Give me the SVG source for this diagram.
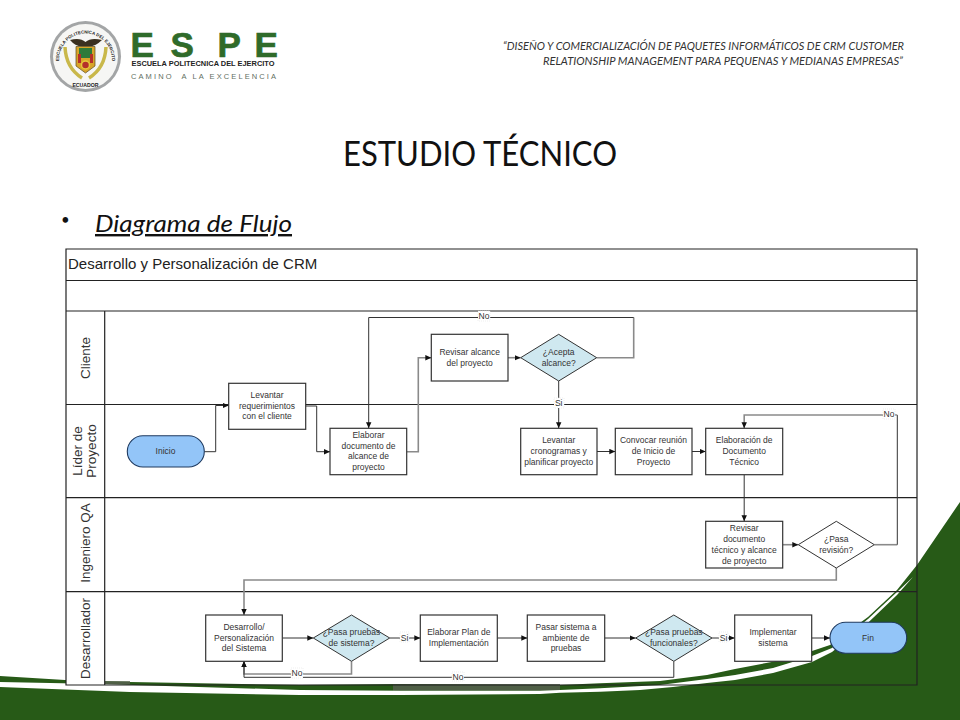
<svg xmlns="http://www.w3.org/2000/svg" xmlns:xlink="http://www.w3.org/1999/xlink" width="960" height="720" viewBox="0 0 960 720">
<style>
.n{fill:#fff;stroke:#333;stroke-width:1.2}
.d{fill:#cfe8f0;stroke:#333;stroke-width:1}
.dw{fill:#fff;stroke:#333;stroke-width:1}
.p{fill:#93c5f8;stroke:#1f3a5f;stroke-width:1.1}
.t{font-family:"Liberation Sans",Arial,sans-serif;font-size:8.5px;fill:#333;text-anchor:middle}
.v{font-family:"Liberation Sans",Arial,sans-serif;font-size:13.5px;fill:#333;text-anchor:middle}
.l{fill:none;stroke:#222;stroke-width:1.2}
.c{fill:none;stroke:#333;stroke-width:1}
.g{fill:none;stroke:#8a8a8a;stroke-width:1.6}
.a{marker-end:url(#ah)}
.lb{fill:#fff;stroke:#ddd;stroke-width:.5;stroke-dasharray:1 1}
.lane{fill:#fff;stroke:none}
</style>
<defs>
<marker id="ah" markerUnits="userSpaceOnUse" markerWidth="7" markerHeight="6" refX="6" refY="3" orient="auto"><path d="M0 .3L6 3L0 5.700Z" fill="#111"/></marker>
<path id="sealTop" d="M59 60A26.500 26.500 0 1 1 112 60"/>
</defs>
<rect width="960" height="720" fill="#fff"/>
<g id="background">
<path d="M0 676L65 680L130 682L300 685L400 684L560 685L600 683.300L660 681L707 675L735 669L773 661.700L812 651L830 645L868 617L897 590L917 565L960 502V720H0Z" fill="#275a17"/>
<path d="M393 684.300H560V690.500H393ZM105 681.300H130V684.500H105Z" fill="#4f5f46"/>
<path d="M0 682L100 684L300 690L400 690.700L540 690.700L560 690L600 688.300L660 685L707 679L735 675L773 668L812 656L832 648L868 619L897 592L913 577L897 595L868 622.700L832 652L812 662L773 673L735 680L707 683L673 687L640 690L600 691.700L560 692.700L540 694L400 695L300 695L130 692L0 687Z" fill="#fff"/>
</g>
<g id="logo">
<circle cx="85.500" cy="56.500" r="35.500" fill="#a3a5a6"/>
<circle cx="85.500" cy="56.500" r="32.500" fill="#f6f6f4"/>
<text font-family="'Liberation Sans',Arial,sans-serif" font-size="4.400" font-weight="700" fill="#222"><textPath xlink:href="#sealTop" href="#sealTop" startOffset="50%" text-anchor="middle">ESCUELA POLITECNICA DEL EJERCITO</textPath></text>
<text x="85.500" y="87" font-family="'Liberation Sans',Arial,sans-serif" font-size="5.200" font-weight="700" fill="#222" text-anchor="middle">ECUADOR</text>
<path d="M65 47Q66 68 82 78M106 47Q105 68 89 78" fill="none" stroke="#c9b84a" stroke-width="3.500"/>
<path d="M70 40Q80 37 85.500 42Q91 37 102 40Q96 46 89 46.500H82Q75 46 70 40Z" fill="#3a3020"/>
<path d="M76 46.500H95V66L85.500 73L76 66Z" fill="#d8a428" stroke="#5a4a20" stroke-width=".7"/>
<rect x="79" y="48" width="13" height="10" fill="#2f7a3a"/>
<rect x="78" y="54" width="3" height="9" fill="#b5302a"/><rect x="90" y="54" width="3" height="9" fill="#b5302a"/>
<circle cx="85.500" cy="65" r="4" fill="#b5302a" stroke="#e6c83c" stroke-width="1.500"/>
<text x="130.500 170.500 217.500 254.500" y="57" font-family="'Liberation Sans',Arial,sans-serif" font-size="35" font-weight="700" fill="#2f6b2a" stroke="#2f6b2a" stroke-width=".7">ESPE</text>
<text x="131.500" y="66" font-family="'Liberation Sans',Arial,sans-serif" font-size="8" font-weight="700" fill="#222" textLength="143" lengthAdjust="spacingAndGlyphs">ESCUELA POLITECNICA DEL EJERCITO</text>
<text x="131" y="78.500" font-family="'Liberation Sans',Arial,sans-serif" font-size="7.500" fill="#5f6f5f" textLength="145" xml:space="preserve">CAMINO  A LA EXCELENCIA</text>
</g>
<g id="header">
<text x="904" y="50" font-family="Lato,'Open Sans',sans-serif" font-size="11" font-style="italic" fill="#333" text-anchor="end" textLength="401" lengthAdjust="spacingAndGlyphs">“DISEÑO Y COMERCIALIZACIÓN DE PAQUETES INFORMÁTICOS DE CRM CUSTOMER</text>
<text x="903" y="65" font-family="Lato,'Open Sans',sans-serif" font-size="11" font-style="italic" fill="#333" text-anchor="end" textLength="360" lengthAdjust="spacingAndGlyphs">RELATIONSHIP MANAGEMENT PARA PEQUENAS Y MEDIANAS EMPRESAS”</text>
<text x="480" y="166" font-family="Lato,'Open Sans',sans-serif" font-size="35" fill="#111" text-anchor="middle" textLength="274" lengthAdjust="spacingAndGlyphs">ESTUDIO TÉCNICO</text>
<text x="61" y="225" font-family="Lato,'Open Sans',sans-serif" font-size="15" fill="#111">•</text>
<text x="95" y="232" font-family="Lato,'Open Sans',sans-serif" font-size="24" font-style="italic" fill="#111" text-decoration="underline" textLength="197" lengthAdjust="spacingAndGlyphs">Diagrama de Flujo</text>
</g>
<g id="swimlanes">
<rect class="lane" x="66" y="249" width="851" height="62"/>
<rect class="lane" x="66" y="311" width="39" height="374"/>
<path class="l" d="M66 249H917V685H66ZM66 280.500H917M66 311H917M66 404.500H917M66 497.700H917M66 591.700H917M104.700 311V685"/>
<text x="68" y="269" font-family="'Liberation Sans',Arial,sans-serif" font-size="15" fill="#222">Desarrollo y Personalización de CRM</text>
<text class="v" transform="translate(89.500 358) rotate(-90)">Cliente</text>
<text class="v" transform="translate(81.500 451) rotate(-90)">Líder de</text>
<text class="v" transform="translate(95.500 451) rotate(-90)">Proyecto</text>
<text class="v" transform="translate(89.500 543) rotate(-90)">Ingeniero QA</text>
<text class="v" transform="translate(89.500 638.500) rotate(-90)">Desarrollador</text>
</g>
<g id="connectors">
<path class="c a" d="M204.300 451.700H215.700V405.500H228.700"/>
<path class="c a" d="M305.700 406H316.700V451.700H330"/>
<path class="g a" d="M406.700 451.700H418.300V357.700H431.300"/>
<path class="g a" d="M508 357.700H520.700"/>
<path class="g" d="M596.700 357.700H633.700V317.500"/>
<path class="c a" d="M633.700 317.500H368.700V428.300"/>
<path class="c a" d="M558.700 381V428.300"/>
<path class="c a" d="M597 451.500H615.300"/>
<path class="c a" d="M692 451.500H705.700"/>
<path class="c a" d="M744.200 474.700V521.300"/>
<path class="g a" d="M782.700 544.700H798.300"/>
<path class="g" d="M874.300 544.700H897.300"/>
<path class="c" d="M897.300 544.700V415"/>
<path class="g a" d="M897.300 415H744.200V428.300"/>
<path class="g a" d="M836.300 568V580H244V615"/>
<path class="c a" d="M282.300 638H313.300"/>
<path class="g a" d="M351.500 661.300V674H244V661.300"/>
<path class="c a" d="M673.800 661.300V677.300H244V661.300"/>
<path class="c a" d="M389.700 638H420.300"/>
<path class="c a" d="M497.300 638H527.300"/>
<path class="c a" d="M604.700 638H635.700"/>
<path class="c a" d="M712 638H734.700"/>
<path class="c a" d="M811.700 638H830"/>
<g id="connector-labels">
<rect class="lb" x="478" y="311" width="12" height="10"/><text class="t" x="484" y="319">No</text>
<rect class="lb" x="554" y="398" width="10" height="10"/><text class="t" x="558.700" y="406">Si</text>
<rect class="lb" x="883" y="409" width="12" height="10"/><text class="t" x="889" y="417">No</text>
<rect class="lb" x="291" y="668" width="12" height="10"/><text class="t" x="297" y="676">No</text>
<rect class="lb" x="400" y="632" width="9" height="10"/><text class="t" x="404.500" y="640.500">Si</text>
<rect class="lb" x="452" y="672" width="12" height="9"/><text class="t" x="458" y="680">No</text>
<rect class="lb" x="719" y="632" width="9" height="10"/><text class="t" x="723.500" y="640.500">Si</text>
</g>
</g>
<g id="inicio"><rect class="p" x="127.300" y="435.700" width="77" height="31.300" rx="15.600"/><text class="t" x="165.500" y="454">Inicio</text></g>
<g id="levantar-req"><rect class="n" x="228.700" y="383.300" width="77" height="46"/><text class="t" x="267" y="398">Levantar</text><text class="t" x="267" y="408.500">requerimientos</text><text class="t" x="267" y="419">con el cliente</text></g>
<g id="elaborar-doc"><rect class="n" x="330" y="428.300" width="76.700" height="46.400"/><text class="t" x="368.500" y="438">Elaborar</text><text class="t" x="368.500" y="448.500">documento de</text><text class="t" x="368.500" y="459">alcance de</text><text class="t" x="368.500" y="469.500">proyecto</text></g>
<g id="revisar-alcance"><rect class="n" x="431.300" y="334.300" width="76.700" height="46.700"/><text class="t" x="469.700" y="355">Revisar alcance</text><text class="t" x="469.700" y="366">del proyecto</text></g>
<g id="acepta"><path class="d" d="M520.700 357.700L558.700 334.300L596.700 357.700L558.700 381Z"/><text class="t" x="558.700" y="355">¿Acepta</text><text class="t" x="558.700" y="366">alcance?</text></g>
<g id="levantar-crono"><rect class="n" x="520.700" y="428.300" width="76.300" height="46.400"/><text class="t" x="558.700" y="443">Levantar</text><text class="t" x="558.700" y="454">cronogramas y</text><text class="t" x="558.700" y="464.500">planificar proyecto</text></g>
<g id="convocar"><rect class="n" x="615.300" y="428.300" width="76.700" height="46.400"/><text class="t" x="653.500" y="443">Convocar reunión</text><text class="t" x="653.500" y="454">de Inicio de</text><text class="t" x="653.500" y="464.500">Proyecto</text></g>
<g id="elaboracion"><rect class="n" x="705.700" y="428.300" width="77" height="46.400"/><text class="t" x="744.200" y="443">Elaboración de</text><text class="t" x="744.200" y="454">Documento</text><text class="t" x="744.200" y="464.500">Técnico</text></g>
<g id="revisar-doc"><rect class="n" x="705.700" y="521.300" width="77" height="46.700"/><text class="t" x="744.200" y="531">Revisar</text><text class="t" x="744.200" y="542">documento</text><text class="t" x="744.200" y="553">técnico y alcance</text><text class="t" x="744.200" y="563.500">de proyecto</text></g>
<g id="pasa-revision"><path class="dw" d="M798.300 544.700L836.300 521.300L874.300 544.700L836.300 568Z"/><text class="t" x="836.300" y="542">¿Pasa</text><text class="t" x="836.300" y="553">revisión?</text></g>
<g id="desarrollo"><rect class="n" x="205.700" y="615" width="76.600" height="46.300"/><text class="t" x="244" y="630">Desarrollo/</text><text class="t" x="244" y="640.500">Personalización</text><text class="t" x="244" y="651">del Sistema</text></g>
<g id="pasa-sistema"><path class="d" d="M313.300 638L351.500 615L389.700 638L351.500 661.300Z"/><text class="t" x="351.500" y="635">¿Pasa pruebas</text><text class="t" x="351.500" y="646">de sistema?</text></g>
<g id="elaborar-plan"><rect class="n" x="420.300" y="615" width="77" height="46.300"/><text class="t" x="458.800" y="635">Elaborar Plan de</text><text class="t" x="458.800" y="646">Implementación</text></g>
<g id="pasar-sistema"><rect class="n" x="527.300" y="615" width="77.400" height="46.300"/><text class="t" x="566" y="630">Pasar sistema a</text><text class="t" x="566" y="640.500">ambiente de</text><text class="t" x="566" y="651">pruebas</text></g>
<g id="pasa-funcionales"><path class="d" d="M635.700 638L673.800 615L712 638L673.800 661.300Z"/><text class="t" x="673.800" y="635">¿Pasa pruebas</text><text class="t" x="673.800" y="646">funcionales?</text></g>
<g id="implementar"><rect class="n" x="734.700" y="615" width="77" height="46.300"/><text class="t" x="773" y="635">Implementar</text><text class="t" x="773" y="646">sistema</text></g>
<g id="fin"><rect class="p" x="830" y="622.300" width="76.700" height="31" rx="15.500"/><text class="t" x="868" y="640.500">Fin</text></g>
</svg>
